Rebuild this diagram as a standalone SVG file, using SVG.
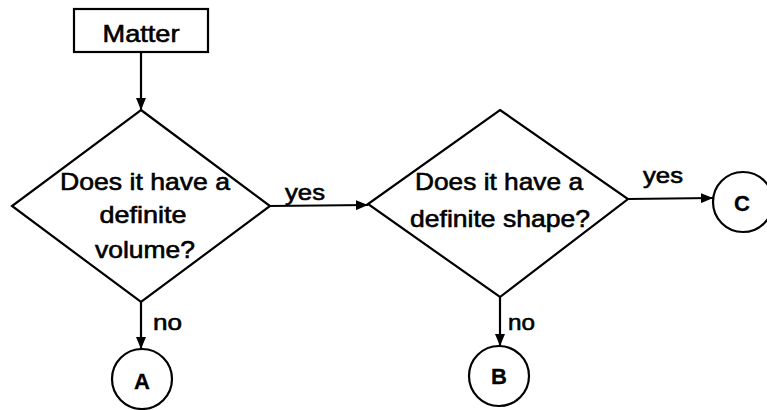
<svg xmlns="http://www.w3.org/2000/svg" width="767" height="410" viewBox="0 0 767 410">
<defs>
<style>
.shape{fill:#fff;stroke:#000;stroke-width:2.2}
.line{fill:none;stroke:#000;stroke-width:2.2}
text{font-family:"Liberation Sans",Arial,sans-serif;fill:#000;stroke:#000;stroke-width:0.6;text-anchor:middle}
.t{font-size:24px}
.lbl{font-size:22px;text-anchor:start}
.c{font-size:22px;font-weight:bold;stroke-width:0.3}
</style>
<marker id="arr" viewBox="0 0 12 10" refX="12" refY="5" markerWidth="12" markerHeight="10" markerUnits="userSpaceOnUse" orient="auto">
<path d="M0,0 L12,5 L0,10 Z" fill="#000"/>
</marker>
</defs>
<rect width="767" height="410" fill="#fff"/>
<g id="connectors">
<line class="line" x1="141" y1="52" x2="141" y2="110" marker-end="url(#arr)"/>
<line class="line" x1="270" y1="206" x2="368" y2="205" marker-end="url(#arr)"/>
<line class="line" x1="628" y1="199" x2="713" y2="198" marker-end="url(#arr)"/>
<line class="line" x1="141" y1="302" x2="141" y2="349" marker-end="url(#arr)"/>
<line class="line" x1="500" y1="297" x2="500" y2="346" marker-end="url(#arr)"/>
<text class="lbl" x="285" y="200" textLength="40" lengthAdjust="spacingAndGlyphs">yes</text>
<text class="lbl" x="643" y="183" textLength="40" lengthAdjust="spacingAndGlyphs">yes</text>
<text class="lbl" x="153" y="330" textLength="29" lengthAdjust="spacingAndGlyphs">no</text>
<text class="lbl" x="508" y="330" textLength="27" lengthAdjust="spacingAndGlyphs">no</text>
</g>
<g id="matter">
<rect class="shape" x="74" y="9" width="134" height="43"/>
<text class="t" x="141" y="42" textLength="77" lengthAdjust="spacingAndGlyphs">Matter</text>
</g>
<g id="volume">
<polygon class="shape" points="141,110 270,206 141,302 12,206"/>
<text class="t" x="145" y="190" textLength="170" lengthAdjust="spacingAndGlyphs">Does it have a</text>
<text class="t" x="143" y="223" textLength="87" lengthAdjust="spacingAndGlyphs">definite</text>
<text class="t" x="145" y="258" textLength="100" lengthAdjust="spacingAndGlyphs">volume?</text>
</g>
<g id="shape">
<polygon class="shape" points="500,110 628,199 500,297 368,204"/>
<text class="t" x="499" y="190" textLength="168" lengthAdjust="spacingAndGlyphs">Does it have a</text>
<text class="t" x="500" y="227" textLength="180" lengthAdjust="spacingAndGlyphs">definite shape?</text>
</g>
<g id="A">
<circle class="shape" cx="142" cy="379" r="30"/>
<text class="c" x="142" y="389">A</text>
</g>
<g id="B">
<circle class="shape" cx="499" cy="376" r="30"/>
<text class="c" x="499" y="384">B</text>
</g>
<g id="C">
<circle class="shape" cx="743" cy="202" r="30"/>
<text class="c" x="742" y="211">C</text>
</g>
</svg>
